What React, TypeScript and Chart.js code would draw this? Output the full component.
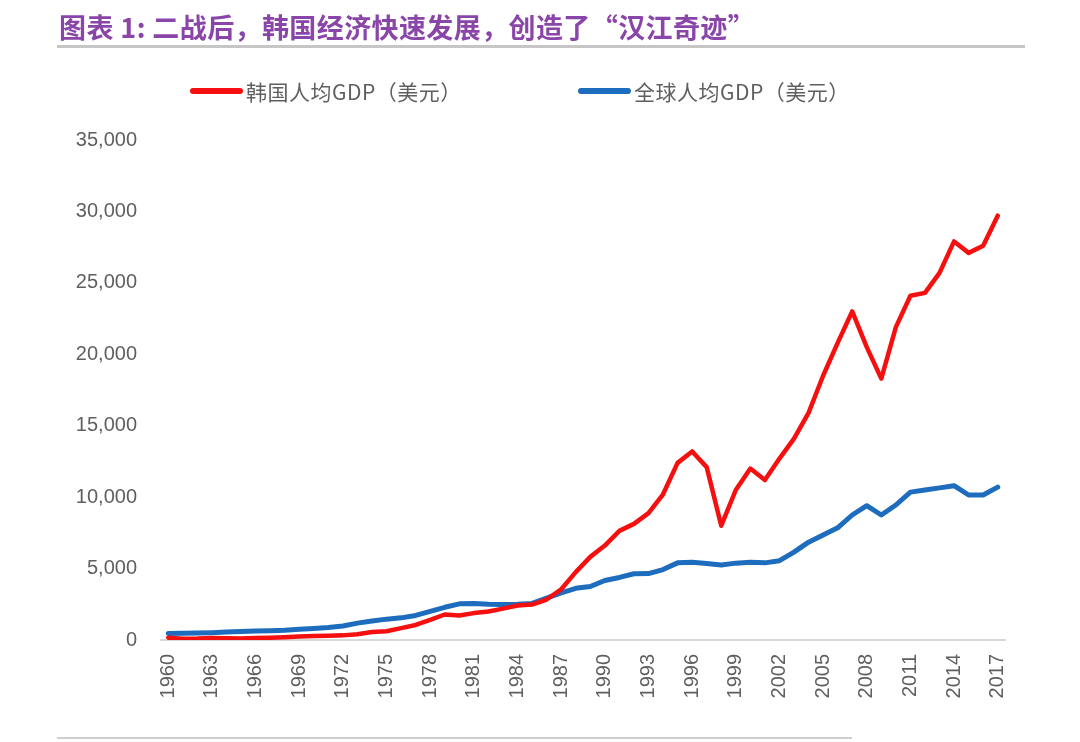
import React, { useEffect, useRef } from "react";
import { Chart, registerables } from "chart.js";

Chart.register(...registerables);

const titleText = "图表 1: 二战后，韩国经济快速发展，创造了“汉江奇迹”";

const years = [
  "1960", "1961", "1962", "1963", "1964", "1965", "1966", "1967", "1968", "1969",
  "1970", "1971", "1972", "1973", "1974", "1975", "1976", "1977", "1978", "1979",
  "1980", "1981", "1982", "1983", "1984", "1985", "1986", "1987", "1988", "1989",
  "1990", "1991", "1992", "1993", "1994", "1995", "1996", "1997", "1998", "1999",
  "2000", "2001", "2002", "2003", "2004", "2005", "2006", "2007", "2008", "2009",
  "2010", "2011", "2012", "2013", "2014", "2015", "2016", "2017",
];

const shownYearLabels = [
  "1960", "1963", "1966", "1969", "1972", "1975", "1978", "1981", "1984", "1987",
  "1990", "1993", "1996", "1999", "2002", "2005", "2008", "2011", "2014", "2017",
];

const koreaGdp = [
  158, 94, 106, 146, 124, 109, 133, 161, 199, 243,
  279, 301, 324, 407, 563, 617, 834, 1055, 1405, 1784,
  1715, 1883, 1993, 2199, 2413, 2482, 2835, 3555, 4749, 5817,
  6610, 7637, 8127, 8885, 10200, 12400, 13200, 12100, 8000, 10500,
  12000, 11200, 12700, 14100, 15900, 18500, 20800, 23000, 20500, 18300,
  21900, 24100, 24300, 25700, 27900, 27100, 27600, 29700,
];

const worldGdp = [
  450, 465, 490, 515, 555, 595, 630, 655, 690, 750,
  800, 870, 980, 1180, 1330, 1460, 1550, 1720, 2000, 2290,
  2530, 2560, 2500, 2480, 2500, 2560, 2930, 3300, 3620, 3740,
  4170, 4380, 4640, 4650, 4930, 5400, 5450, 5350, 5250, 5380,
  5450, 5400, 5550, 6150, 6850, 7350, 7850, 8750, 9400, 8750,
  9450, 10350, 10500, 10650, 10800, 10150, 10150, 10700,
];

const seriesNames = ["韩国人均GDP（美元）", "全球人均GDP（美元）"];
const seriesColors = ["#f50f0f", "#1d6cbd"];

const yMin = 0;
const yMax = 35000;
const yStep = 5000;

const legendXs = [190, 578];
const legendY = 91;

const fixedLegend = {
  id: "fixedLegend",
  afterDraw(chart: any) {
    const ctx = chart.ctx;
    chart.data.datasets.forEach((ds: any, i: number) => {
      const x = legendXs[i];
      ctx.save();
      ctx.strokeStyle = ds.borderColor;
      ctx.lineWidth = 6;
      ctx.lineCap = "round";
      ctx.beginPath();
      ctx.moveTo(x + 3, legendY);
      ctx.lineTo(x + 50, legendY);
      ctx.stroke();
      ctx.fillStyle = "#5f5f5f";
      ctx.font = '21px "Noto Sans CJK SC"';
      try {
        (ctx as any).letterSpacing = "0.5px";
      } catch (e) {}
      ctx.textBaseline = "middle";
      ctx.textAlign = "left";
      ctx.fillText(ds.label, x + 56, legendY + 1);
      ctx.restore();
    });
  },
};

function GdpChart() {
  const ref = useRef<HTMLCanvasElement | null>(null);
  useEffect(() => {
    if (!ref.current) return;
    const chart = new Chart(ref.current, {
      type: "line",
      data: {
        labels: years,
        datasets: [
          {
            label: seriesNames[0],
            data: koreaGdp,
            borderColor: seriesColors[0],
            backgroundColor: seriesColors[0],
            borderWidth: 4.5,
            pointRadius: 0,
            tension: 0,
            borderJoinStyle: "round",
            borderCapStyle: "round",
          },
          {
            label: seriesNames[1],
            data: worldGdp,
            borderColor: seriesColors[1],
            backgroundColor: seriesColors[1],
            borderWidth: 5,
            pointRadius: 0,
            tension: 0,
            borderJoinStyle: "round",
            borderCapStyle: "round",
          },
        ],
      },
      options: {
        animation: false,
        responsive: false,
        maintainAspectRatio: false,
        devicePixelRatio: 1,
        layout: { padding: { left: 0, top: 140, right: 75, bottom: 0 } },
        plugins: {
          legend: { display: false },
          title: { display: false },
          tooltip: { enabled: false },
        },
        scales: {
          x: {
            offset: true,
            grid: { display: false, drawTicks: false },
            border: { display: true, color: "#d9d9d9", width: 2 },
            ticks: {
              autoSkip: false,
              minRotation: 90,
              maxRotation: 90,
              padding: 14,
              color: "#5f5f5f",
              font: { family: '"Liberation Sans", Arial, sans-serif', size: 20 },
              callback: function (this: any, value: any, index: number) {
                const lab = years[index];
                return shownYearLabels.includes(lab) ? lab : "";
              },
            },
            afterFit: (scale: any) => {
              scale.height = 102;
            },
          },
          y: {
            min: yMin,
            max: yMax,
            grid: { display: false, drawTicks: false },
            border: { display: false },
            ticks: {
              stepSize: yStep,
              padding: 24,
              color: "#5f5f5f",
              font: { family: '"Liberation Sans", Arial, sans-serif', size: 20 },
              callback: (v: any) => Number(v).toLocaleString("en-US"),
            },
            afterFit: (scale: any) => {
              scale.width = 161;
            },
          },
        },
      },
      plugins: [fixedLegend],
    });
    return () => chart.destroy();
  }, []);
  return (
    <canvas
      ref={ref}
      width={1080}
      height={742}
      style={{ position: "absolute", left: 0, top: 0, width: 1080, height: 742 }}
    />
  );
}

export default function App() {
  return (
    <div
      style={{
        position: "absolute",
        left: 0,
        top: 0,
        width: 1080,
        height: 742,
        background: "#ffffff",
        overflow: "hidden",
      }}
    >
      <GdpChart />
      <div
        style={{
          position: "absolute",
          left: 59,
          top: 9,
          fontFamily: '"Noto Sans CJK SC", sans-serif',
          fontWeight: 700,
          fontSize: 27,
          letterSpacing: "0.4px",
          lineHeight: "35px",
          color: "#8a45a8",
          whiteSpace: "nowrap",
        }}
      >
        {titleText}
      </div>
      <div
        style={{
          position: "absolute",
          left: 57,
          top: 45,
          width: 968,
          height: 3,
          background: "#c6c6c6",
        }}
      />
      <div
        style={{
          position: "absolute",
          left: 57,
          top: 737,
          width: 795,
          height: 2,
          background: "#cfcfcf",
        }}
      />
    </div>
  );
}
